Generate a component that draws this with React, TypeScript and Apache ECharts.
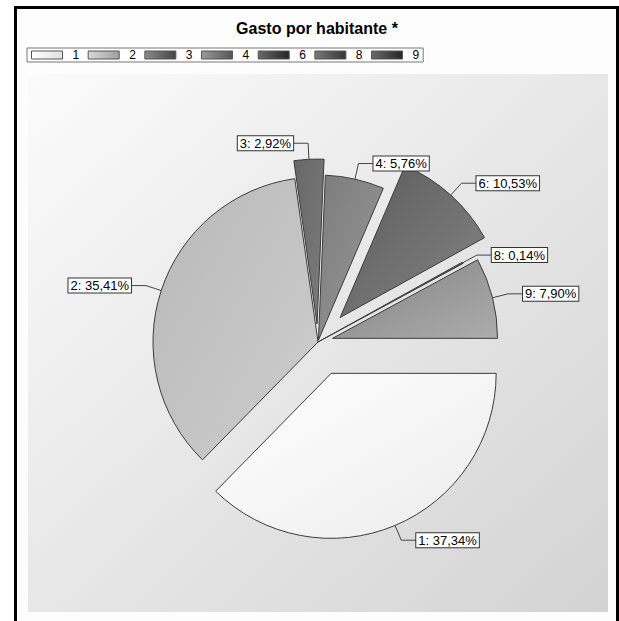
import React, { useEffect, useRef } from "react";
import * as echarts from "echarts";

const categories = ["1", "2", "3", "4", "6", "8", "9"];
const shares = [37.34, 35.41, 2.92, 5.76, 10.53, 0.14, 7.9];
const titleText = "Gasto por habitante *";

// styling (not data)
const explode = [34, 0, 18, 2, 33, 0, 15];
const sliceFrom = ["#ffffff", "#b8b8b8", "#676767", "#7c7c7c", "#5a5a5a", "#505050", "#828282"];
const sliceTo = ["#ececec", "#cecece", "#7d7d7d", "#999999", "#858585", "#606060", "#adadad"];
const legendFrom = ["#ffffff", "#d8d8d8", "#8a8a8a", "#9a9a9a", "#6a6a6a", "#7a7a7a", "#6a6a6a"];
const legendTo = ["#e0e0e0", "#a0a0a0", "#454545", "#555555", "#252525", "#353535", "#252525"];

const CX = 318;
const CY = 342;
const R = 165;
const FONT = "Liberation Sans, Arial, sans-serif";

function grad(a: string, b: string, x2 = 1, y2 = 1) {
  return new echarts.graphic.LinearGradient(0, 0, x2, y2, [
    { offset: 0, color: a },
    { offset: 1, color: b },
  ]);
}

function fmt(v: number) {
  return v.toFixed(2).replace(".", ",") + "%";
}

export default function App() {
  const ref = useRef<HTMLDivElement>(null);
  useEffect(() => {
    document.body.style.margin = "0";
    if (!ref.current) return;
    const chart = echarts.init(ref.current, undefined, { renderer: "svg" });
    const total = shares.reduce((s, v) => s + v, 0);
    let cum = 0;
    const series: any[] = categories.map((cat, i) => {
      const v = shares[i];
      const before = cum;
      cum += v;
      const startAngle = -(before / total) * 360;
      const mid = ((before + v / 2) / total) * 2 * Math.PI;
      const dx = Math.cos(mid) * explode[i];
      const dy = Math.sin(mid) * explode[i];
      return {
        type: "pie",
        name: "s" + cat,
        center: [CX + dx, CY + dy],
        radius: R,
        startAngle,
        clockwise: true,
        avoidLabelOverlap: false,
        minAngle: 0,
        emphasis: { disabled: true },
        selectedMode: false,
        data: [
          {
            name: cat,
            value: v,
            itemStyle: {
              color: grad(sliceFrom[i], sliceTo[i]),
              borderColor: "#3c3c3c",
              borderWidth: 1,
            },
            label: {
              show: true,
              formatter: (p: any) => `${p.name}: ${fmt(p.value)}`,
              backgroundColor: "#ffffff",
              borderColor: "#333333",
              borderWidth: 1,
              padding: [1, 2, 0, 2],
              color: "#000000",
              fontSize: 13,
              fontFamily: FONT,
              distanceToLabelLine: 0,
            },
            labelLine: {
              show: true,
              length: 16,
              length2: 15,
              lineStyle: { color: "#444444", width: 1 },
            },
          },
          {
            name: "_rest" + cat,
            value: total - v,
            itemStyle: { color: "rgba(0,0,0,0)", borderWidth: 0 },
            label: { show: false },
            labelLine: { show: false },
          },
        ],
      };
    });

    chart.setOption({
      animation: false,
      tooltip: { show: false },
      legend: {
        left: 27,
        top: 48,
        orient: "horizontal",
        itemWidth: 31,
        itemHeight: 8,
        itemGap: 8.5,
        padding: [1, 4, 1, 4],
        borderColor: "#777",
        borderWidth: 1,
        backgroundColor: "#ffffff",
        selectedMode: false,
        textStyle: {
          fontSize: 12,
          color: "#000",
          fontFamily: FONT,
          padding: [0, 0, 0, 5],
        },
        data: categories.map((c, i) => ({
          name: c,
          icon: "rect",
          itemStyle: {
            color: grad(legendFrom[i], legendTo[i], 1, 0),
            borderColor: "#555",
            borderWidth: 1,
          },
        })),
      },
      graphic: [
        {
          type: "rect",
          z: -10,
          shape: { x: 15.5, y: 7.5, width: 602, height: 700 },
          style: { fill: "#fdfdfd", stroke: "#000", lineWidth: 3 },
          silent: true,
        },
        {
          type: "rect",
          z: -9,
          shape: { x: 28, y: 74, width: 580, height: 538 },
          style: { fill: grad("#fbfbfb", "#d3d3d3") },
          silent: true,
        },
        {
          type: "text",
          z: 10,
          x: 317,
          y: 28,
          style: {
            text: titleText,
            textAlign: "center",
            textVerticalAlign: "middle",
            fontSize: 16,
            fontWeight: "bold",
            fontFamily: FONT,
            fill: "#000",
          },
        },
      ],
      series,
    });
    return () => chart.dispose();
  }, []);
  return <div ref={ref} style={{ width: 619, height: 621, background: "#fff" }} />;
}
